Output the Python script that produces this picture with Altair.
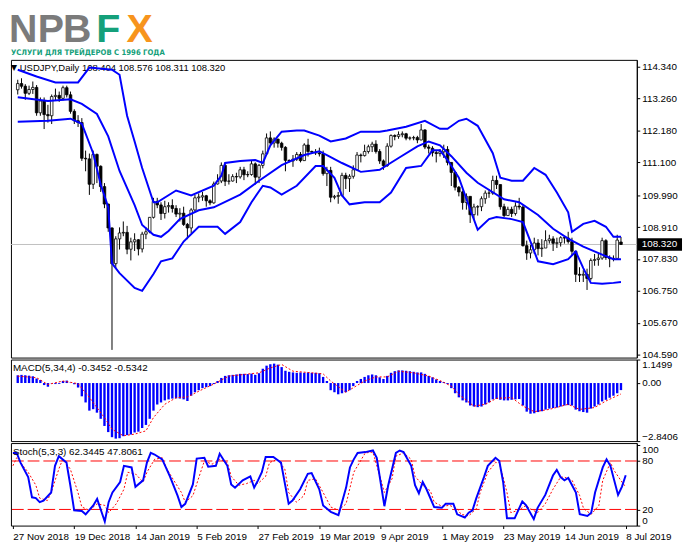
import altair as alt
import pandas as pd

FONT = "Liberation Sans"
W = 637
H_MAIN, H_MACD, H_STOCH = 303, 83, 84
X_DOMAIN = [-0.5, 162.9]
BLUE = "#0000ff"
RED = "#ff0000"

date_ticks = [0, 16, 32, 48, 64, 80, 96, 112, 128, 144, 160]
date_labels = ["27 Nov 2018", "19 Dec 2018", "14 Jan 2019", "5 Feb 2019", "27 Feb 2019",
               "19 Mar 2019", "9 Apr 2019", "1 May 2019", "23 May 2019", "14 Jun 2019", "8 Jul 2019"]
price_ticks = [114.340, 113.260, 112.180, 111.100, 109.990, 108.910, 107.830, 106.750, 105.670, 104.590]

# USDJPY daily bars, oldest first
closes = [
    113.77, 113.68, 113.44, 113.57, 113.64, 112.78, 113.18, 112.72, 112.68, 113.33,
    113.37, 113.27, 113.63, 113.39, 112.83, 112.51, 112.45, 111.24, 111.22, 110.36,
    111.37, 110.97, 110.28, 109.69, 108.88, 107.67, 108.51, 108.71, 108.73, 108.16,
    108.41, 108.48, 108.17, 108.67, 108.75, 109.24, 109.78, 109.66, 109.37, 109.60,
    109.64, 109.54, 109.35, 109.38, 109.00, 108.88, 109.49, 109.90, 109.93, 109.97,
    109.80, 109.73, 110.37, 110.47, 111.00, 110.46, 110.47, 110.62, 110.61, 110.85,
    110.68, 110.69, 111.05, 110.60, 111.00, 111.39, 111.93, 111.76, 111.89, 111.75,
    111.61, 111.17, 111.15, 111.21, 111.37, 111.16, 111.69, 111.47, 111.45, 111.42,
    111.39, 110.72, 110.83, 109.92, 109.95, 109.98, 110.66, 110.55, 110.63, 110.85,
    111.35, 111.33, 111.47, 111.63, 111.72, 111.47, 111.15, 110.99, 111.65, 112.01,
    111.98, 112.04, 112.07, 111.92, 111.93, 111.94, 111.86, 112.20, 111.62, 111.58,
    111.43, 111.40, 111.46, 111.54, 111.10, 110.76, 110.26, 110.10, 109.74, 109.95,
    109.33, 109.59, 109.60, 109.87, 110.06, 110.06, 110.49, 110.35, 109.60, 109.30,
    109.51, 109.37, 109.62, 109.59, 108.28, 108.03, 108.14, 108.37, 108.18, 108.20,
    108.45, 108.51, 108.36, 108.38, 108.55, 108.54, 108.42, 108.09, 107.31, 107.28,
    107.31, 107.17, 107.78, 107.81, 107.86, 108.45, 107.88, 107.84, 107.85, 108.47,
    108.320,
]
highs = [
    113.90, 113.95, 113.75, 113.70, 113.84, 113.72, 113.30, 113.30, 113.05, 113.40,
    113.60, 113.50, 113.70, 113.70, 113.50, 112.90, 112.70, 112.60, 111.50, 111.40,
    111.50, 111.40, 111.00, 110.40, 109.70, 108.90, 108.60, 108.90, 109.10, 108.95,
    108.55, 108.70, 108.50, 108.75, 108.90, 109.25, 109.90, 109.90, 109.75, 109.80,
    109.75, 109.85, 109.65, 109.55, 109.60, 109.05, 109.55, 110.00, 110.05, 110.10,
    110.00, 109.85, 110.45, 110.70, 111.10, 111.10, 110.70, 110.70, 110.75, 110.95,
    110.95, 110.80, 111.15, 111.10, 111.05, 111.50, 112.08, 112.15, 111.95, 111.90,
    111.80, 111.65, 111.20, 111.35, 111.45, 111.45, 111.75, 111.90, 111.50, 111.55,
    111.60, 111.50, 110.95, 110.95, 110.00, 110.10, 110.75, 110.75, 110.70, 111.00,
    111.45, 111.40, 111.70, 111.70, 111.80, 111.85, 111.55, 111.20, 111.75, 112.05,
    112.05, 112.15, 112.15, 112.10, 111.98, 112.00, 112.00, 112.40, 112.22, 111.70,
    111.65, 111.50, 111.55, 111.70, 111.65, 111.10, 110.80, 110.30, 110.15, 110.05,
    109.95, 109.70, 109.65, 109.95, 110.15, 110.20, 110.65, 110.65, 110.35, 109.70,
    109.60, 109.60, 109.75, 109.90, 109.65, 108.45, 108.30, 108.55, 108.50, 108.50,
    108.80, 108.65, 108.60, 108.55, 108.60, 108.60, 108.75, 108.55, 108.10, 107.55,
    107.45, 107.50, 107.85, 108.00, 108.00, 108.55, 108.50, 107.95, 107.95, 108.65,
    108.576,
]
lows = [
    113.40, 113.60, 113.22, 113.38, 113.42, 112.68, 112.68, 112.23, 112.45, 112.40,
    113.20, 113.15, 113.20, 113.30, 112.75, 112.40, 112.30, 111.15, 110.80, 110.00,
    110.20, 110.40, 110.10, 109.55, 108.75, 104.75, 107.50, 108.15, 108.60, 107.99,
    107.78, 108.10, 107.95, 108.05, 108.50, 108.70, 109.20, 109.55, 109.15, 109.20,
    109.40, 109.40, 109.25, 109.10, 108.95, 108.50, 108.70, 109.45, 109.75, 109.80,
    109.60, 109.65, 109.70, 110.35, 110.40, 110.30, 110.35, 110.45, 110.40, 110.55,
    110.50, 110.60, 110.65, 110.35, 110.40, 110.90, 111.35, 111.70, 111.60, 111.60,
    111.50, 110.80, 111.10, 110.95, 111.15, 111.10, 111.15, 111.30, 111.40, 111.35,
    111.30, 110.65, 110.30, 109.75, 109.85, 109.70, 109.95, 110.20, 110.10, 110.55,
    110.85, 111.10, 111.30, 111.40, 111.45, 111.40, 111.05, 110.85, 110.95, 111.60,
    111.85, 111.90, 111.95, 111.85, 111.85, 111.85, 111.75, 111.85, 111.55, 111.40,
    111.30, 111.10, 111.30, 111.25, 111.00, 110.30, 110.15, 109.95, 109.50, 109.50,
    109.05, 109.15, 109.30, 109.45, 109.70, 109.90, 110.00, 110.20, 109.50, 109.25,
    109.30, 109.25, 109.30, 109.50, 108.25, 107.80, 107.85, 108.00, 107.95, 107.90,
    108.20, 108.35, 108.10, 108.20, 108.25, 108.35, 108.35, 107.95, 107.05, 107.05,
    107.05, 106.78, 107.10, 107.60, 107.60, 107.80, 107.80, 107.55, 107.75, 107.85,
    108.311,
]
first_open = 113.56
last_open = 108.404
last_close = 108.320

# Bollinger bands, read at their turning points
bb_up_bar = [0, 5, 10, 16, 19, 25, 27, 29, 31, 33, 36, 37, 42, 46, 52, 54, 55, 59, 63, 65,
             67, 70, 74, 76, 80, 83, 87, 91, 96, 98, 103, 108, 112, 114, 117, 119, 122, 126,
             128, 131, 134, 137, 140, 143, 146, 147, 150, 153, 156, 158, 160]
bb_up = [114.24, 114.01, 113.81, 113.81, 114.31, 114.24, 114.07, 112.68, 111.81, 110.91,
         109.75, 109.75, 110.15, 109.98, 110.31, 110.65, 111.08, 111.15, 111.18, 111.08,
         111.68, 112.14, 112.18, 112.18, 112.01, 111.81, 111.91, 112.14, 112.14, 112.18,
         112.31, 112.51, 112.24, 112.24, 112.51, 112.58, 112.34, 111.41, 110.58, 110.48,
         110.48, 110.91, 110.68, 110.08, 109.41, 108.75, 109.02, 109.12, 108.92, 108.58, 108.58]
bb_mid_bar = [0, 8, 14, 17, 21, 24, 27, 31, 33, 36, 38, 40, 43, 48, 52, 59, 64, 70, 76, 80,
              82, 86, 91, 96, 101, 106, 109, 112, 115, 119, 122, 129, 133, 138, 142, 146,
              150, 155, 158, 160]
bb_mid = [113.31, 113.18, 113.24, 113.08, 112.74, 111.98, 110.81, 109.65, 108.98, 108.65,
          108.58, 108.78, 109.18, 109.48, 109.58, 110.01, 110.48, 111.01, 111.35, 111.48,
          111.35, 111.08, 110.78, 110.85, 111.25, 111.64, 111.81, 111.68, 111.31, 110.75,
          110.41, 109.85, 109.75, 109.32, 108.85, 108.52, 108.25, 107.98, 107.82, 107.82]
bb_low_bar = [0, 8, 14, 17, 20, 22, 24, 25, 27, 31, 33, 36, 38, 41, 44, 48, 53, 55, 59, 62,
              65, 67, 70, 74, 79, 81, 84, 86, 88, 92, 96, 99, 103, 107, 110, 112, 114, 117,
              120, 122, 125, 127, 131, 134, 136, 138, 142, 146, 148, 150, 152, 155, 158, 160]
bb_low = [112.48, 112.51, 112.58, 112.41, 111.41, 110.35, 109.58, 107.68, 107.35, 106.85,
          106.75, 107.32, 107.75, 107.85, 108.42, 108.92, 108.92, 108.68, 109.08, 109.75,
          110.31, 110.25, 110.01, 110.31, 110.98, 110.98, 110.58, 109.98, 109.68, 109.75,
          109.75, 110.08, 110.91, 110.98, 111.51, 111.51, 111.18, 110.58, 109.51, 108.82,
          109.18, 109.25, 109.18, 109.08, 108.42, 107.75, 107.65, 107.82, 108.08, 107.52,
          107.02, 106.99, 107.02, 107.05]

# MACD(5,34,4) histogram, one value per bar
macd_hist = [
    0.38, 0.40, 0.38, 0.36, 0.33, 0.22, 0.15, -0.10, -0.18, -0.02,
    -0.05, -0.04, 0.10, 0.12, 0.02, -0.06, -0.22, -0.65, -0.95, -1.35,
    -1.28, -1.45, -1.75, -2.10, -2.40, -2.65, -2.72, -2.70, -2.60, -2.55,
    -2.52, -2.42, -2.38, -2.20, -2.05, -1.75, -1.35, -1.05, -0.95, -0.85,
    -0.80, -0.76, -0.75, -0.76, -0.80, -0.88, -0.62, -0.45, -0.35, -0.25,
    -0.20, -0.15, -0.05, 0.10, 0.25, 0.35, 0.38, 0.40, 0.42, 0.45,
    0.45, 0.44, 0.46, 0.40, 0.48, 0.70, 0.85, 0.92, 0.95, 0.90,
    0.78, 0.60, 0.55, 0.52, 0.50, 0.52, 0.50, 0.52, 0.50, 0.50,
    0.48, 0.30, 0.10, -0.35, -0.45, -0.55, -0.50, -0.45, -0.35, -0.15,
    0.10, 0.20, 0.30, 0.38, 0.42, 0.38, 0.28, 0.20, 0.35, 0.50,
    0.58, 0.62, 0.62, 0.60, 0.58, 0.55, 0.52, 0.52, 0.45, 0.35,
    0.28, 0.18, 0.10, 0.05, -0.05, -0.25, -0.50, -0.70, -0.85, -0.95,
    -1.10, -1.15, -1.18, -1.15, -1.05, -0.95, -0.80, -0.78, -0.82, -0.85,
    -0.85, -0.82, -0.80, -0.78, -1.10, -1.40, -1.50, -1.48, -1.42, -1.38,
    -1.30, -1.25, -1.22, -1.20, -1.15, -1.10, -1.08, -1.10, -1.30, -1.38,
    -1.42, -1.45, -1.25, -1.15, -1.05, -0.90, -0.82, -0.72, -0.62, -0.50,
    -0.3452,
]
macd_sig_bar = [0, 5, 8, 12, 16, 19, 23, 25, 28, 31, 34, 36, 39, 42, 45, 49, 52, 56, 64, 67,
                70, 73, 81, 83, 87, 89, 92, 95, 98, 101, 105, 109, 112, 115, 117, 121, 124,
                127, 131, 134, 137, 141, 146, 149, 153, 156, 160]
macd_sig = [0.34, 0.26, -0.07, 0.10, -0.03, -0.71, -1.69, -2.26, -2.58, -2.50,
            -2.34, -1.69, -1.04, -0.72, -0.68, -0.31, -0.05, 0.34, 0.50, 0.74,
            0.91, 0.58, 0.45, 0.10, -0.45, -0.23, 0.10, 0.30, 0.30, 0.58,
            0.50, 0.34, 0.12, -0.15, -0.56, -1.13, -1.04, -0.75, -0.71, -1.13,
            -1.40, -1.29, -1.04, -1.29, -1.20, -0.88, -0.5342]

# Stochastic(5,3,3)
stoch_k_bar = [0, 1, 2, 4, 5, 6, 7, 8, 10, 11, 12, 14, 15, 16, 18, 19, 21, 22, 23, 24,
               25, 26, 28, 29, 31, 32, 34, 35, 36, 37, 39, 41, 43, 44, 45, 47, 48, 50, 51, 53,
               54, 56, 57, 58, 60, 62, 63, 64, 65, 66, 68, 70, 72, 73, 75, 77, 78, 80, 81, 83,
               85, 87, 88, 89, 90, 92, 94, 95, 97, 98, 100, 101, 102, 104, 105, 106, 107, 108,
               110, 112, 113, 115, 116, 118, 119, 120, 121, 123, 124, 126, 127, 128, 129, 131,
               133, 134, 136, 137, 139, 141, 142, 143, 144, 145, 147, 148, 150, 151, 152, 154,
               155, 156, 158, 159, 160]
stoch_k = [90, 90, 78, 60, 35, 34, 29, 31, 41, 74, 86, 78, 50, 19, 18, 14, 25, 33, 19, 5,
           29, 41, 54, 74, 72, 48, 56, 78, 90, 88, 82, 61, 37, 23, 27, 51, 83, 84, 73, 74,
           89, 74, 51, 47, 56, 61, 47, 56, 66, 85, 85, 78, 27, 31, 45, 64, 65, 45, 25, 17,
           13, 47, 72, 82, 90, 91, 93, 84, 24, 50, 90, 93, 91, 74, 50, 40, 54, 45,
           23, 22, 27, 27, 14, 10, 16, 19, 34, 60, 74, 84, 80, 54, 9, 9,
           30, 25, 8, 22, 38, 62, 69, 60, 56, 59, 41, 14, 12, 16, 41, 72,
           82, 74, 38, 48, 62.3445]
stoch_d_bar = [0, 1, 4, 6, 7, 9, 10, 12, 13, 15, 17, 18, 20, 22, 24, 25, 27, 29, 30, 32,
               34, 35, 37, 39, 40, 42, 44, 45, 47, 49, 50, 52, 54, 56, 57, 59, 61, 63, 64, 66,
               67, 69, 71, 72, 74, 76, 77, 79, 81, 83, 85, 87, 89, 92, 94, 96, 97, 99, 100, 102,
               104, 105, 107, 109, 110, 112, 114, 116, 117, 119, 121, 122, 124, 126, 127, 129,
               130, 132, 134, 135, 137, 139, 141, 143, 144, 146, 148, 149, 151, 153, 154, 156,
               157, 159, 160]
stoch_d = [74, 84, 66, 50, 34, 31, 41, 70, 82, 70, 41, 23, 19, 27, 25, 16, 27, 45, 66, 64,
           54, 66, 82, 84, 72, 56, 41, 29, 37, 66, 80, 76, 82, 78, 61, 50, 52, 56, 52, 61,
           78, 82, 70, 41, 29, 37, 56, 58, 41, 23, 19, 27, 66, 90, 91, 58, 41, 58, 86, 90,
           82, 61, 50, 43, 29, 24, 25, 21, 14, 12, 21, 41, 66, 78, 78, 41,
           16, 19, 25, 21, 16, 27, 45, 60, 60, 56, 37, 21, 14, 25, 56, 78,
           68, 54, 47.8061]

n = len(closes)
opens = [first_open] + closes[:-1]
opens[-1] = last_open
candles = pd.DataFrame({"bar": range(n), "open": opens, "high": highs, "low": lows, "close": closes})
bands = pd.concat([
    pd.DataFrame({"bar": bb_up_bar, "price": bb_up, "band": "upper"}),
    pd.DataFrame({"bar": bb_mid_bar, "price": bb_mid, "band": "middle"}),
    pd.DataFrame({"bar": bb_low_bar, "price": bb_low, "band": "lower"}),
])
last_df = pd.DataFrame({"p": [last_close], "top": [last_close + 0.21], "bot": [last_close - 0.21]})
macd_df = pd.DataFrame({"bar": range(n), "macd": macd_hist})
macd_sig_df = pd.DataFrame({"bar": macd_sig_bar, "sig": macd_sig})
k_df = pd.DataFrame({"bar": stoch_k_bar, "k": stoch_k})
d_df = pd.DataFrame({"bar": stoch_d_bar, "d": stoch_d})
one = pd.DataFrame({"v": [0]})

xs = alt.Scale(domain=X_DOMAIN, nice=False, zero=False)
x_hidden = alt.X("bar:Q", scale=xs, axis=None)

# ---- price panel
price_scale = alt.Scale(domain=[104.49, 114.573], nice=False, zero=False)
price_axis = alt.Axis(orient="right", values=price_ticks, format=".3f", labelFlush=False,
                      labelOverlap=False, title=None)


def py(field):
    return alt.Y(field, scale=price_scale, axis=price_axis)


head_tri = alt.Chart(one).mark_text(text="▼", fontSize=8, color="black", align="center",
                                    baseline="middle", font="DejaVu Sans").encode(
    x=alt.value(3), y=alt.value(8))
head = alt.Chart(one).mark_text(text="USDJPY,Daily 108.404 108.576 108.311 108.320",
                                align="left", baseline="middle", font=FONT, fontSize=9.6,
                                color="black").encode(x=alt.value(9), y=alt.value(8))
price_line = alt.Chart(last_df).mark_rule(color="#c0c0c0", strokeWidth=1).encode(y=py("p:Q"))
wicks = alt.Chart(candles).mark_rule(color="black", strokeWidth=1).encode(
    x=x_hidden, y=py("low:Q"), y2="high:Q")
bodies = alt.Chart(candles).mark_bar(size=2.6, stroke="black", strokeWidth=0.8).encode(
    x=x_hidden, y=py("open:Q"), y2="close:Q",
    fill=alt.condition("datum.close >= datum.open", alt.value("white"), alt.value("black")))
band_lines = alt.Chart(bands).mark_line(color=BLUE, strokeWidth=2).encode(
    x=x_hidden, y=py("price:Q"), detail="band:N")
badge = alt.Chart(last_df).mark_rect(color="black").encode(
    x=alt.value(W + 1), x2=alt.value(W + 46), y=py("top:Q"), y2="bot:Q")
badge_txt = alt.Chart(last_df).mark_text(text="108.320", color="white", align="left",
                                         baseline="middle", font=FONT, fontSize=10).encode(
    x=alt.value(W + 5), y=py("p:Q"))

logo = []
for ch, cx, col in zip("NPBFX", [12.5, 40.5, 67.5, 99, 131],
                       ["#7b7b7b", "#7b7b7b", "#7b7b7b", "#14a07a", "#f7941d"]):
    logo.append(alt.Chart(one).mark_text(text=ch, font=FONT, fontSize=40, fontWeight="bold",
                                         color=col, align="center", baseline="alphabetic").encode(
        x=alt.value(cx), y=alt.value(-18)))
slogan = alt.Chart(one).mark_text(text="УСЛУГИ ДЛЯ ТРЕЙДЕРОВ С 1996 ГОДА",
                                  font="DejaVu Sans Condensed, Liberation Sans Narrow, Liberation Sans",
                                  fontSize=7.8, fontWeight="bold",
                                  color="#14a07a", align="left", baseline="alphabetic").encode(
    x=alt.value(0), y=alt.value(-5))

main = alt.layer(head, head_tri, price_line, wicks, bodies, band_lines, badge, badge_txt,
                 slogan, *logo).properties(width=W, height=H_MAIN)

# ---- MACD panel
macd_scale = alt.Scale(domain=[-2.8406, 1.1499], nice=False, zero=False)
macd_axis = alt.Axis(orient="right", values=[1.1499, 0, -2.8406], labelFlush=True,
                     labelOverlap=False, title=None,
                     labelExpr="datum.value == 0 ? '0.00' : format(datum.value, '.4f')")
hist = alt.Chart(macd_df).mark_bar(size=2.4, color=BLUE).encode(
    x=x_hidden, y=alt.Y("macd:Q", scale=macd_scale, axis=macd_axis), y2=alt.datum(0))
macd_sig_line = alt.Chart(macd_sig_df).mark_line(color=RED, strokeWidth=1, strokeDash=[2, 2]).encode(
    x=x_hidden, y=alt.Y("sig:Q", scale=macd_scale, axis=macd_axis))
macd_title = alt.Chart(one).mark_text(text="MACD(5,34,4) -0.3452 -0.5342", align="left",
                                      baseline="middle", font=FONT, fontSize=10,
                                      color="black").encode(x=alt.value(2), y=alt.value(9))
macd = alt.layer(hist, macd_sig_line, macd_title).properties(width=W, height=H_MACD)

# ---- Stochastic panel
stoch_scale = alt.Scale(domain=[0, 102.2], nice=False, zero=False)
stoch_axis = alt.Axis(orient="right", values=[100, 80, 20, 0], format="d", labelFlush=3,
                      labelOverlap=False, title=None)
label_expr = "[" + ",".join("'%s'" % s for s in date_labels) + "][round(datum.value / 16)]"
date_axis = alt.Axis(values=date_ticks, labelExpr=label_expr, labelAlign="left", labelFlush=False,
                     labelOverlap=False, labelBound=False, domain=False, tickSize=3,
                     labelPadding=3, title=None)
levels = alt.Chart(pd.DataFrame({"lvl": [80, 20]})).mark_rule(
    color=RED, strokeWidth=1, strokeDash=[12, 4]).encode(
    y=alt.Y("lvl:Q", scale=stoch_scale, axis=stoch_axis))
d_line = alt.Chart(d_df).mark_line(color=RED, strokeWidth=1, strokeDash=[2, 2]).encode(
    x=alt.X("bar:Q", scale=xs, axis=date_axis), y=alt.Y("d:Q", scale=stoch_scale, axis=stoch_axis))
k_line = alt.Chart(k_df).mark_line(color=BLUE, strokeWidth=2).encode(
    x=alt.X("bar:Q", scale=xs, axis=date_axis), y=alt.Y("k:Q", scale=stoch_scale, axis=stoch_axis))
stoch_title = alt.Chart(one).mark_text(text="Stoch(5,3,3) 62.3445 47.8061", align="left",
                                       baseline="middle", font=FONT, fontSize=10,
                                       color="black").encode(x=alt.value(2), y=alt.value(9))
stoch = alt.layer(levels, d_line, k_line, stoch_title).properties(width=W, height=H_STOCH)

chart = alt.vconcat(main, macd, stoch, spacing=2, bounds="flush").properties(
    padding={"left": 0, "top": -3, "right": 0, "bottom": 0}
).configure_view(stroke="black", strokeWidth=1).configure_axis(
    labelFont=FONT, labelFontSize=10, labelColor="black", tickColor="black",
    domainColor="black", tickSize=3, labelPadding=2, grid=False, labelOverlap=False
)

chart.save("out.html", embed_options={"renderer": "svg", "actions": False})
